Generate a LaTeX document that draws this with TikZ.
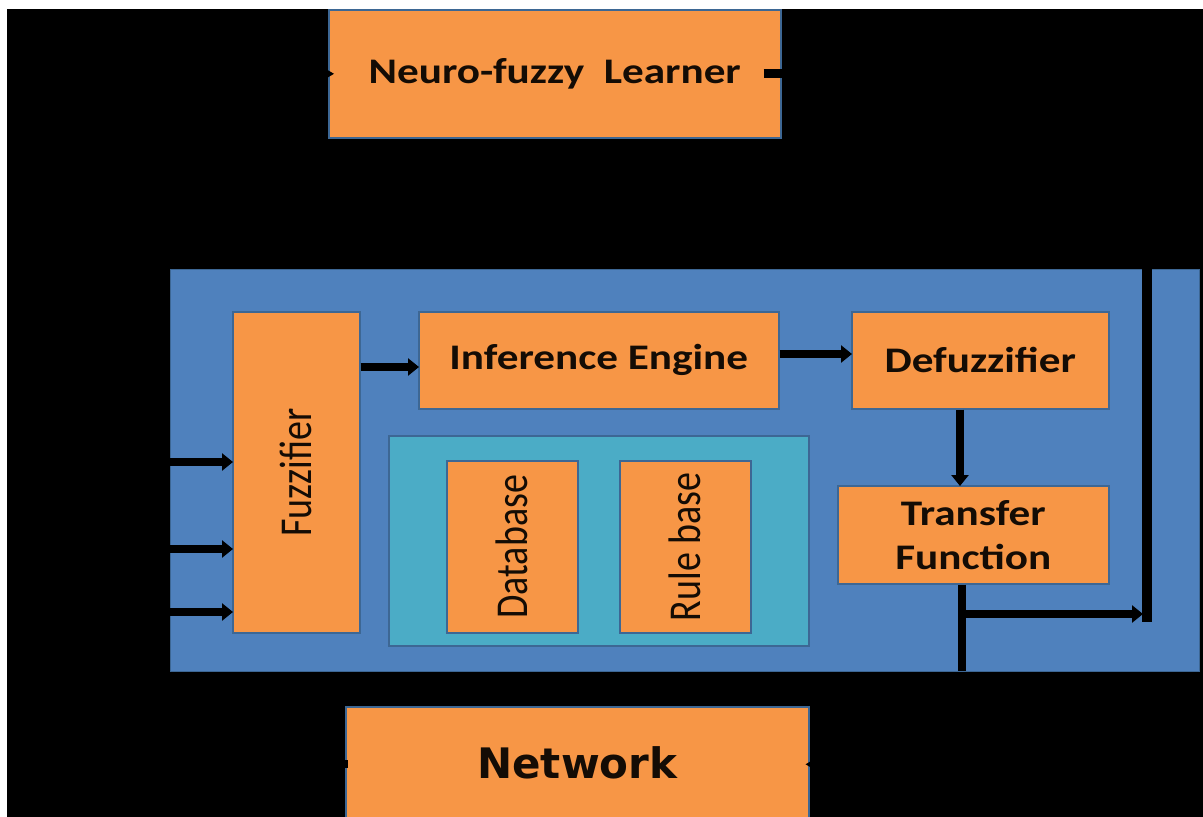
\documentclass[tikz,border=0pt]{standalone}
\usepackage{graphicx}
\usepackage{fontspec}
\setmainfont{Carlito}
\newfontfamily\netfont{DejaVu Sans}
\usetikzlibrary{arrows.meta}

\definecolor{boxorange}{HTML}{F79646}
\definecolor{panelblue}{HTML}{4F81BD}
\definecolor{storeteal}{HTML}{4BACC6}
\definecolor{edgeblue}{HTML}{3D6794}
\definecolor{ink}{HTML}{140C05}

% horizontal labels are set a little wide; vertical ones likewise across the page
\newcommand\widetext[1]{\scalebox{1.2}[1]{#1}}
\newcommand\uptext[1]{\rotatebox{90}{\scalebox{1}[1.2]{#1}}}

\tikzset{
  block/.style={draw=edgeblue, line width=1.6pt, fill=boxorange, text=ink,
    inner sep=0pt, anchor=north west},
  panel/.style={draw=edgeblue, line width=1.2pt, fill=panelblue, inner sep=0pt, anchor=north west},
  store/.style={draw=edgeblue, line width=1.6pt, fill=storeteal, inner sep=0pt, anchor=north west},
  wire/.style={line width=8pt, draw=black},
  arr/.style={wire, -{Triangle[length=11pt,width=17pt]}, shorten >=-1pt},
  big/.style={font=\fontsize{36}{40}\bfseries\selectfont},
  side/.style={font=\fontsize{38}{40}\selectfont},
}

\begin{document}
\begin{tikzpicture}[x=1pt,y=-1pt]
  \useasboundingbox (0,0) rectangle (1203,817);
  \fill[white] (0,0) rectangle (1203,817);
  \fill[black] (7,9) rectangle (1203,817);

  % learner on top, network below
  \node[block, minimum width=452pt, minimum height=128pt,
        font=\fontsize{36}{40}\bfseries\selectfont] (learner) at (328,9)
        {\raisebox{2pt}{\widetext{Neuro-fuzzy\ \ Learner}}};
  \node[block, minimum width=463pt, minimum height=115pt,
        font=\fontsize{42}{48}\netfont\bfseries\selectfont] (net) at (345,706)
        {\raisebox{3pt}{Network}};

  % main panel
  \node[panel, minimum width=1029pt, minimum height=402pt] (panel) at (170,269) {};

  \node[block, minimum width=127pt, minimum height=321pt, side] (fuzz) at (232,311)
        {\uptext{Fuzzifier}};
  \node[block, minimum width=360pt, minimum height=97pt, big] (infer) at (418,311)
        {\widetext{Inference Engine}};
  \node[block, minimum width=257pt, minimum height=97pt, big] (defuzz) at (851,311)
        {\widetext{Defuzzifier}};
  \node[block, minimum width=271pt, minimum height=98pt, big, align=center] (transfer) at (837,485)
        {\widetext{Transfer}\\[4pt]\widetext{Function}};

  \node[store, minimum width=420pt, minimum height=210pt] (kb) at (388,435) {};
  \node[block, minimum width=131pt, minimum height=172pt, side] (db) at (446,460)
        {\uptext{Database}};
  \node[block, minimum width=131pt, minimum height=172pt, side] (rb) at (619,460)
        {\uptext{Rule base}};

  % collecting bus on the right of the panel
  \coordinate (bustop) at (1147,269);
  \coordinate (busend) at (1147,622);
  \coordinate (tfdrop) at (962,671);
  \coordinate (tap) at (962,614);

  % inputs into the fuzzifier
  \foreach \yy in {462,549,612}
    \draw[arr] (panel.west |- 0,\yy) -- (fuzz.west |- 0,\yy);

  \draw[arr] (fuzz.east |- 0,367) -- (infer.west |- 0,367);
  \draw[arr] (infer.east |- 0,354) -- (defuzz.west |- 0,354);
  \draw[arr] (defuzz.south -| 960,0) -- (transfer.north -| 960,0);
  \draw[wire] (transfer.south -| tfdrop) -- (tfdrop);
  \draw[line width=10pt] (bustop) -- (busend);
  \draw[arr] (tap) -- ([xshift=-5pt]busend |- tap);

  % stubs where outside connectors meet the learner and the network
  \draw[line width=9pt] ([xshift=-18pt]learner.east) -- (learner.east);
  \fill[black] ([xshift=-6pt,yshift=-7pt]learner.west) -- ([xshift=6pt]learner.west)
               -- ([xshift=-6pt,yshift=7pt]learner.west) -- cycle;
  \fill[black] ([xshift=-5pt,yshift=-4pt]net.west) rectangle ([xshift=3pt,yshift=4pt]net.west);
  \fill[black] ([xshift=6pt,yshift=-6pt]net.east) -- ([xshift=-4pt]net.east)
               -- ([xshift=6pt,yshift=6pt]net.east) -- cycle;
\end{tikzpicture}
\end{document}
